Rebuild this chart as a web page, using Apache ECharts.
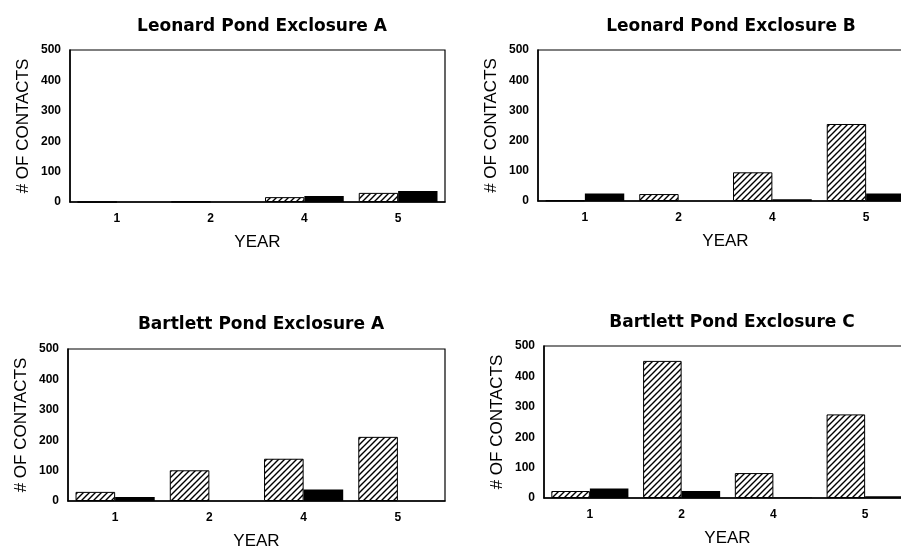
<!DOCTYPE html>
<html><head><meta charset="utf-8">
<script src="https://cdn.jsdelivr.net/npm/echarts@6/dist/echarts.min.js"></script>
<style>html,body{margin:0;padding:0;background:#fff;overflow:hidden}#c{width:901px;height:548px}</style>
</head><body><div id="c"></div>
<script>
const years = ['1', '2', '4', '5'];
const panelTitles = ['Leonard Pond Exclosure A', 'Leonard Pond Exclosure B', 'Bartlett Pond Exclosure A', 'Bartlett Pond Exclosure C'];
const yTickMax = 500;
const yTickStep = 100;
const leonardA_hatched = [0, 1, 16, 30];
const leonardA_solid = [0, 0, 20, 36];
const leonardB_hatched = [2, 23, 95, 255];
const leonardB_solid = [25, 0, 6, 25];
const bartlettA_hatched = [30, 101, 139, 211];
const bartlettA_solid = [13, 0, 38, 0];
const bartlettC_hatched = [23, 451, 82, 275];
const bartlettC_solid = [31, 23, 2, 6];

const hatchedSets = [leonardA_hatched, leonardB_hatched, bartlettA_hatched, bartlettC_hatched];
const solidSets = [leonardA_solid, leonardB_solid, bartlettA_solid, bartlettC_solid];

const grids = [
  {left: 70, top: 50, width: 375, height: 152},
  {left: 538, top: 50, width: 375, height: 151},
  {left: 68, top: 349, width: 377, height: 152},
  {left: 544, top: 346, width: 367, height: 152}
];
const titlePos = [[257, 13], [726, 13], [256, 311], [727, 309]];

function hatch() {
  const s = 6;
  const c = document.createElement('canvas');
  c.width = c.height = s;
  const x = c.getContext('2d');
  x.fillStyle = '#fff';
  x.fillRect(0, 0, s, s);
  x.strokeStyle = '#000';
  x.lineWidth = 1.4;
  x.beginPath();
  x.moveTo(0, s); x.lineTo(s, 0);
  x.moveTo(-1, 1); x.lineTo(1, -1);
  x.moveTo(s - 1, s + 1); x.lineTo(s + 1, s - 1);
  x.stroke();
  return c;
}
const pattern = {image: hatch(), repeat: 'repeat'};
const FF = 'Liberation Sans, Arial, sans-serif';
const FT = 'DejaVu Sans, sans-serif';

const chart = echarts.init(document.getElementById('c'), null, {renderer: 'canvas'});
const option = {
  backgroundColor: '#fff',
  animation: false,
  title: panelTitles.map((t, i) => ({
    text: t, left: titlePos[i][0], top: titlePos[i][1], textAlign: 'center',
    textStyle: {fontSize: 17, fontWeight: 'bold', color: '#000', fontFamily: FT}
  })),
  grid: grids.map(g => Object.assign({show: true, borderColor: '#000', borderWidth: 1.2, backgroundColor: 'transparent', containLabel: false, outerBoundsMode: 'none'}, g)),
  xAxis: grids.map((g, i) => ({
    type: 'category', gridIndex: i, data: years,
    axisLine: {lineStyle: {color: '#000', width: 1.5}},
    axisTick: {show: false},
    axisLabel: {color: '#000', fontWeight: 'bold', fontSize: 12, margin: 11, fontFamily: FF},
    name: 'YEAR', nameLocation: 'middle', nameGap: 32,
    nameTextStyle: {color: '#000', fontSize: 17, fontFamily: FF}
  })),
  yAxis: grids.map((g, i) => ({
    type: 'value', gridIndex: i, min: 0, max: yTickMax, interval: yTickStep,
    axisLine: {show: true, lineStyle: {color: '#000', width: 1.5}},
    axisTick: {show: false},
    splitLine: {show: false},
    axisLabel: {color: '#000', fontWeight: 'bold', fontSize: 12, margin: 9, fontFamily: FF},
    name: '# OF CONTACTS', nameLocation: 'middle', nameGap: 38,
    nameTextStyle: {color: '#000', fontSize: 17, fontFamily: FF}
  })),
  series: []
};
for (let i = 0; i < 4; i++) {
  option.series.push({
    type: 'bar', xAxisIndex: i, yAxisIndex: i, data: hatchedSets[i],
    barGap: '0%', barCategoryGap: '16%',
    itemStyle: {color: pattern, borderColor: '#000', borderWidth: 1}
  });
  option.series.push({
    type: 'bar', xAxisIndex: i, yAxisIndex: i, data: solidSets[i],
    barGap: '0%', barCategoryGap: '16%',
    itemStyle: {color: '#000'}
  });
}
chart.setOption(option);
</script>
</body></html>
